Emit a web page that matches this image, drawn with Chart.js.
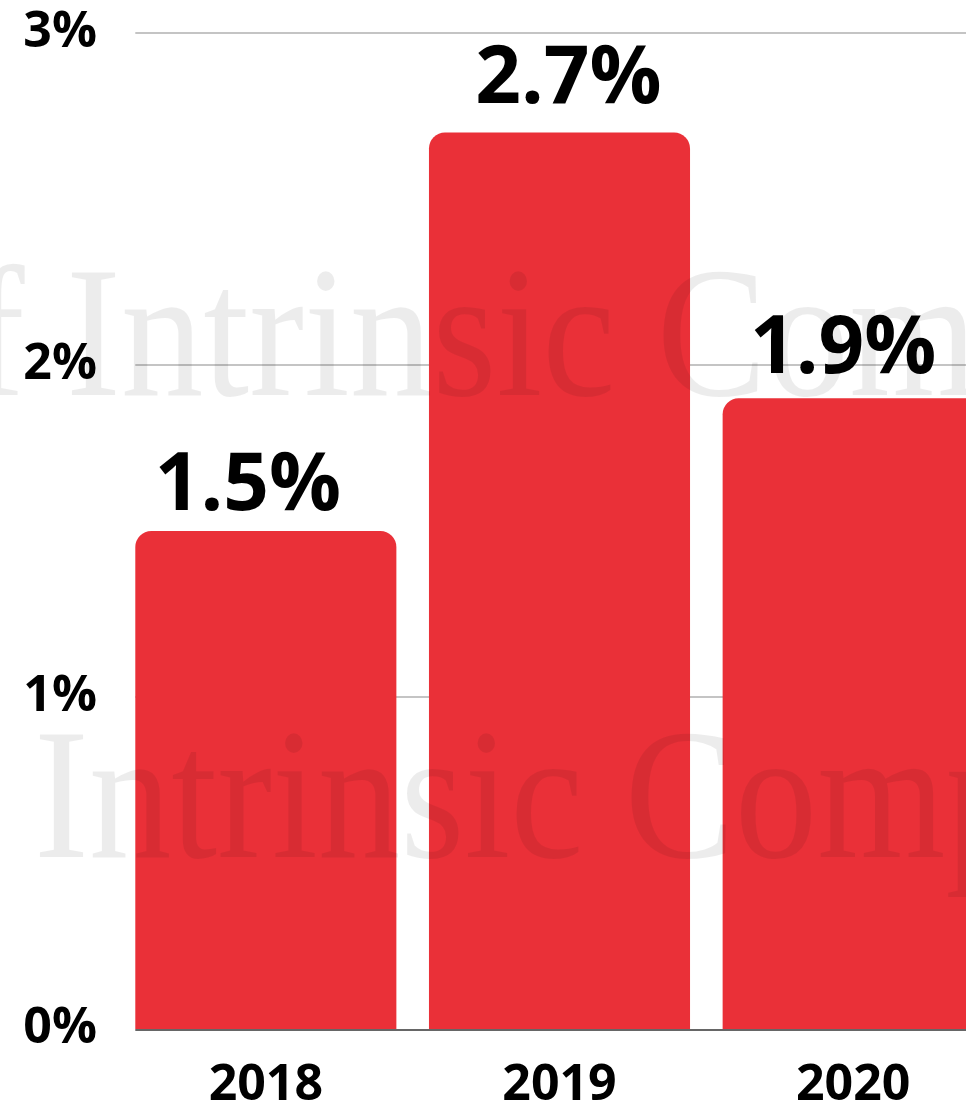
<!DOCTYPE html>
<html>
<head>
<meta charset="utf-8">
<title>Yearly rate</title>
<script src="https://cdn.jsdelivr.net/npm/chart.js@4.4.1/dist/chart.umd.min.js"></script>
<style>
html, body { margin: 0; padding: 0; background: #fff; overflow: hidden; }
#wrap { width: 1000px; height: 1109px; }
</style>
</head>
<body>
<div id="wrap"><canvas id="rate_chart" width="1000" height="1109"></canvas></div>
<script>
'use strict';

const years = ['2018', '2019', '2020'];
const rates = [1.5, 2.7, 1.9];
const rateTicks = [0, 1, 2, 3];

const BAR_RED = '#EA3038';
const BOLD = '"Open Sans", "Noto Sans", sans-serif';

// horizontal grid lines start at the left edge of the first bar, not the chart area
const gridLines = {
    id: 'gridLines',
    beforeDatasetsDraw(chart) {
        const ctx = chart.ctx;
        const area = chart.chartArea;
        const first = chart.getDatasetMeta(0).data[0];
        const left = first.x - first.width / 2;
        const y = chart.scales.y;
        ctx.save();
        ctx.strokeStyle = '#c4c4c4';
        ctx.lineWidth = 2;
        rateTicks.forEach(v => {
            if (v === 0) return;
            const py = Math.round(y.getPixelForValue(v));
            ctx.beginPath();
            ctx.moveTo(left, py);
            ctx.lineTo(area.right, py);
            ctx.stroke();
        });
        ctx.restore();
    },
    afterDatasetsDraw(chart) {
        const ctx = chart.ctx;
        const first = chart.getDatasetMeta(0).data[0];
        const left = first.x - first.width / 2;
        const py = Math.round(chart.scales.y.getPixelForValue(0)) + 1;
        ctx.save();
        ctx.strokeStyle = '#666';
        ctx.lineWidth = 2;
        ctx.beginPath();
        ctx.moveTo(left, py);
        ctx.lineTo(chart.chartArea.right, py);
        ctx.stroke();
        ctx.restore();
    }
};

// faint serif watermark in two rows, laid over the bars
const watermark = {
    id: 'watermark',
    afterDatasetsDraw(chart, args, opts) {
        const ctx = chart.ctx;
        ctx.save();
        ctx.font = opts.size + 'px "Liberation Serif", serif';
        ctx.fillStyle = 'rgba(0, 0, 0, 0.075)';
        ctx.textBaseline = 'alphabetic';
        const lead = ctx.measureText('of ').width;
        opts.rows.forEach(row => {
            ctx.save();
            ctx.translate(row.x, row.y);
            ctx.scale(opts.sx, opts.sy);
            ctx.fillText(opts.text, -lead, 0);
            ctx.restore();
        });
        ctx.restore();
    }
};

// big value labels above each bar
const valueLabels = {
    id: 'valueLabels',
    afterDatasetsDraw(chart, args, opts) {
        const ctx = chart.ctx;
        const bars = chart.getDatasetMeta(0).data;
        ctx.save();
        ctx.font = 'bold 80px ' + BOLD;
        ctx.fillStyle = '#000';
        ctx.textAlign = 'center';
        ctx.textBaseline = 'alphabetic';
        bars.forEach((bar, i) => {
            const nudge = opts.nudge[i] || {dx: 0, dy: 0};
            ctx.fillText(rates[i].toFixed(1) + '%', bar.x + nudge.dx, bar.y - opts.gap + nudge.dy);
        });
        ctx.restore();
    }
};

const rate_chart = new Chart('rate_chart', {
    type: 'bar',
    data: {
        labels: years,
        datasets: [{
            data: rates,
            backgroundColor: BAR_RED,
            borderWidth: 0,
            borderRadius: 16,
            categoryPercentage: 1,
            barPercentage: 0.889
        }]
    },
    plugins: [gridLines, watermark, valueLabels],
    options: {
        responsive: false,
        animation: false,
        layout: {padding: {top: 33, left: 0, right: 0, bottom: 0}},
        plugins: {
            legend: {display: false},
            tooltip: {enabled: false},
            watermark: {
                text: 'of Intrinsic Compounding',
                size: 170,
                sx: 0.97,
                sy: 1.1,
                rows: [{x: 66, y: 395}, {x: 34, y: 857}]
            },
            valueLabels: {
                gap: 25,
                nudge: [{dx: -18, dy: 4}, {dx: 9, dy: -5}, {dx: -10, dy: 0}]
            }
        },
        scales: {
            x: {
                grid: {display: false, drawTicks: false},
                border: {display: false},
                ticks: {
                    color: '#000',
                    padding: 27,
                    font: {family: BOLD, size: 50, weight: 'bold', lineHeight: 1.2}
                },
                afterFit(scale) {
                    scale.height = 80;
                    scale.paddingLeft = 0;
                    scale.paddingRight = 0;
                }
            },
            y: {
                min: 0,
                max: 3,
                afterBuildTicks(scale) { scale.ticks = rateTicks.map(v => ({value: v})); },
                grid: {display: false, drawTicks: false},
                border: {display: false},
                ticks: {
                    color: '#000',
                    padding: 22,
                    callback: v => v + '%',
                    font: {family: BOLD, size: 50, weight: 'bold'}
                },
                afterFit(scale) {
                    scale.width = 119;
                    scale.paddingTop = 0;
                    scale.paddingBottom = 0;
                }
            }
        }
    }
});
</script>
</body>
</html>
